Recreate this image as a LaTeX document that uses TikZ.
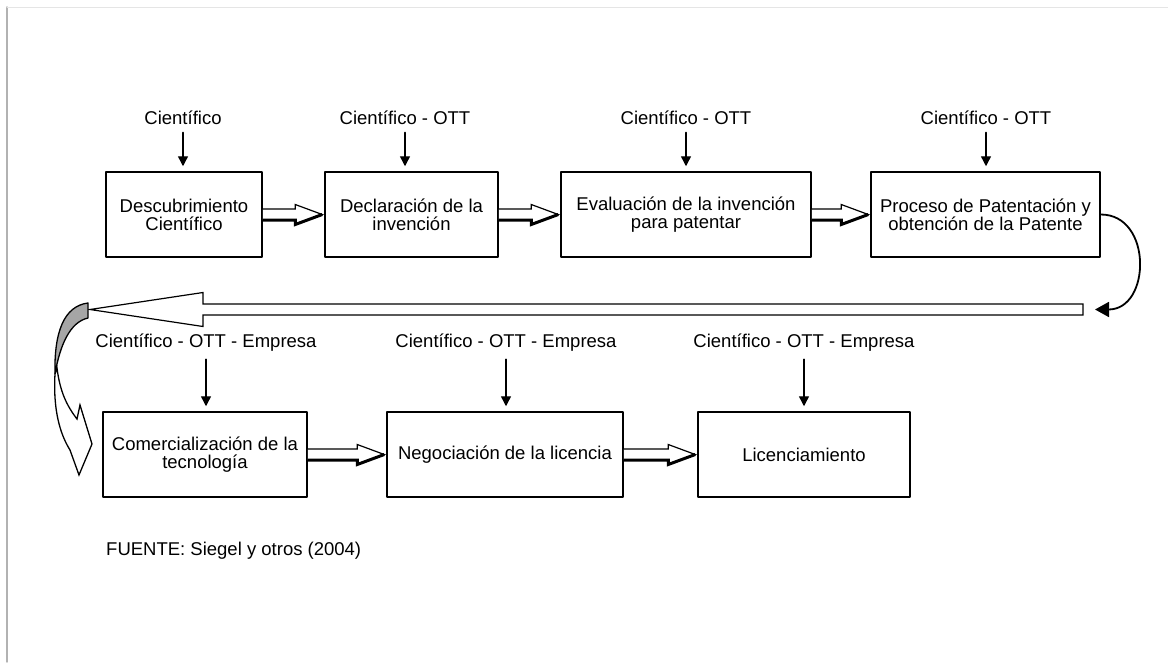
\documentclass[tikz,border=0pt]{standalone}
\usepackage{fontspec}
\setmainfont{Liberation Sans}
\usetikzlibrary{arrows.meta,calc}

\tikzset{
  caja/.style={draw,line width=1.5pt,align=center,inner sep=0pt,minimum height=85pt},
  baja/.style={line width=1.4pt,-{Triangle[length=10pt,width=10pt]},shorten <=4pt,shorten >=5pt},
  hueca/.style={line width=1.2pt,fill=white,line join=miter},
  sombra/.style={line width=3pt,line join=miter,line cap=butt},
}

\newcommand{\flechahueca}[2]{%
  \draw[hueca] let \p1=(#1.east), \p2=(#2.west) in
    (\x1,\y1+5.5pt) -- (\x2-29pt,\y1+5.5pt) -- (\x2-29pt,\y1+10pt) -- (\x2-2pt,\y1)
    -- (\x2-29pt,\y1-10pt) -- (\x2-29pt,\y1-5.5pt) -- (\x1,\y1-5.5pt);
  \draw[sombra] let \p1=(#1.east), \p2=(#2.west) in
    (\x1,\y1-5.5pt) -- (\x2-29pt,\y1-5.5pt) -- (\x2-29pt,\y1-10pt) -- (\x2-2pt,\y1);
}

\begin{document}
\begin{tikzpicture}[x=1pt,y=-1pt,line cap=round,line join=round,
  every node/.style={font=\fontsize{18.5}{18}\selectfont}]
\useasboundingbox (0,0) rectangle (1168,662);
\draw[gray!60,line width=1.4pt] (7,7) -- (7,662);
\draw[gray!20,line width=1pt] (7,7) -- (1168,7);

\node[caja,minimum width=156pt] (descubrimiento) at (184,214.5) {Descubrimiento\\Científico};
\node[caja,minimum width=173pt] (declaracion) at (411.5,214.5) {Declaración de la\\invención};
\node[caja,minimum width=250pt] (evaluacion) at (686,214.5) {Evaluación de la invención\\para patentar};
\node[caja,minimum width=229pt] (proceso) at (985.5,214.5) {Proceso de Patentación y\\obtención de la Patente};

\node (actor1) at (183,118) {Científico};
\node (actor2) at (405,118) {Científico - OTT};
\node (actor3) at (686,118) {Científico - OTT};
\node (actor4) at (986,118) {Científico - OTT};

\draw[baja] (actor1.south) -- (actor1.south |- descubrimiento.north);
\draw[baja] (actor2.south) -- (actor2.south |- declaracion.north);
\draw[baja] (actor3.south) -- (actor3.south |- evaluacion.north);
\draw[baja] (actor4.south) -- (actor4.south |- proceso.north);

\flechahueca{descubrimiento}{declaracion}
\flechahueca{declaracion}{evaluacion}
\flechahueca{evaluacion}{proceso}

\coordinate (larga-der) at (1083,309.5);
\coordinate (larga-izq) at (90,309.5);
\draw[hueca] let \p1=(larga-der), \p2=(larga-izq) in
  (\x1,\y1+5.5pt) -- (\x2+113pt,\y1+5.5pt) -- (\x2+113pt,\y1+17pt) -- (\x2,\y1)
  -- (\x2+113pt,\y1-17pt) -- (\x2+113pt,\y1-5.5pt) -- (\x1,\y1-5.5pt) -- cycle;
\draw[line width=1.8pt,-{Triangle[length=14pt,width=15pt]}]
  (proceso.east) .. controls +(52,0) and +(56,0) .. ([xshift=12pt]larga-der);

\filldraw[fill=gray!70,line width=1.3pt] (88,303) .. controls (64,306) and (54,332) .. (55,374)
  .. controls (60,345) and (70,322) .. (88,318) -- cycle;
\filldraw[fill=white,line width=1.3pt,line join=miter] (55,374) .. controls (53,410) and (60,434) .. (70,450)
  -- (79,475) -- (92,444) -- (80,405) -- (77,419) .. controls (67,406) and (60,392) .. (57,368) -- cycle;

\node[caja,minimum width=204pt] (comercializacion) at (205,454.5) {Comercialización de la\\tecnología};
\node[caja,minimum width=236pt] (negociacion) at (505,454.5) {Negociación de la licencia};
\node[caja,minimum width=212pt] (licenciamiento) at (804,454.5) {Licenciamiento};

\node (actor5) at (206,343) {Científico - OTT - Empresa};
\node (actor6) at (506,343) {Científico - OTT - Empresa};
\node (actor7) at (804,343) {Científico - OTT - Empresa};

\draw[baja] (actor5.south) -- (actor5.south |- comercializacion.north);
\draw[baja] (actor6.south) -- (actor6.south |- negociacion.north);
\draw[baja] (actor7.south) -- (actor7.south |- licenciamiento.north);

\flechahueca{comercializacion}{negociacion}
\flechahueca{negociacion}{licenciamiento}

\node[anchor=west,inner sep=0pt] (fuente) at (106,551) {FUENTE: Siegel y otros (2004)};
\end{tikzpicture}
\end{document}
